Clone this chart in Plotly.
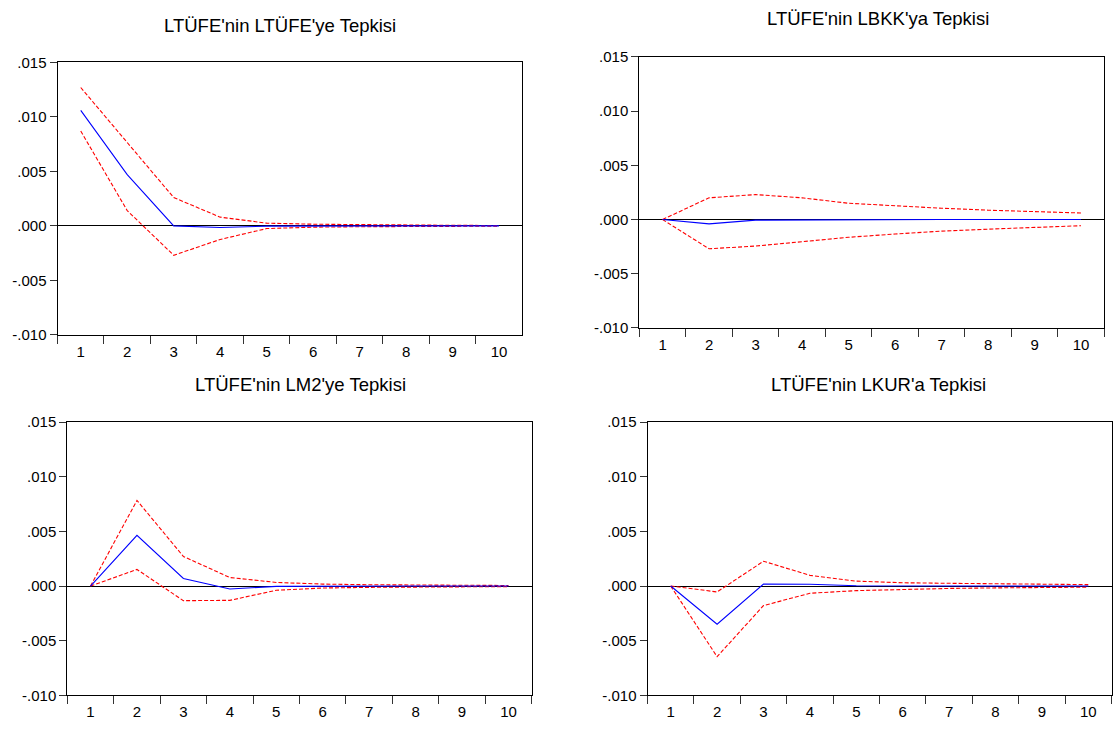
import plotly.graph_objects as go

W, H = 1113, 735

periods = ["1", "2", "3", "4", "5", "6", "7", "8", "9", "10"]

titles = [
    "LTÜFE'nin LTÜFE'ye Tepkisi",
    "LTÜFE'nin LBKK'ya Tepkisi",
    "LTÜFE'nin LM2'ye Tepkisi",
    "LTÜFE'nin LKUR'a Tepkisi",
]

# LTÜFE -> LTÜFE
resp_tufe = [0.0106, 0.0047, 0.0000, -0.00015, -0.00003, 0.0000, 0.0000, 0.0000, 0.0000, 0.0000]
up_tufe = [0.0127, 0.0077, 0.0026, 0.0008, 0.00025, 0.00015, 0.0001, 0.00007, 0.00005, 0.00003]
lo_tufe = [0.0087, 0.0014, -0.0027, -0.00125, -0.00025, -0.00012, -0.00008, -0.00005, -0.00004, -0.00003]

# LTÜFE -> LBKK
resp_bkk = [0.0, -0.0004, -0.00006, -0.00003, -0.00002, -0.00001, 0.0, 0.0, 0.0, 0.0]
up_bkk = [0.0, 0.0020, 0.0023, 0.0020, 0.0015, 0.00125, 0.00104, 0.00086, 0.00072, 0.0006]
lo_bkk = [0.0, -0.0027, -0.00245, -0.00203, -0.00164, -0.00134, -0.00107, -0.00089, -0.00072, -0.00057]

# LTÜFE -> LM2
resp_m2 = [0.0, 0.00465, 0.00069, -0.00027, -0.00003, 0.0, 0.0, 0.0, 0.0, 0.0]
up_m2 = [0.0, 0.00784, 0.00271, 0.00078, 0.00033, 0.00018, 0.00012, 0.00008, 0.00006, 0.00005]
lo_m2 = [0.0, 0.00152, -0.00134, -0.00131, -0.00039, -0.00018, -0.00012, -0.00008, -0.00006, -0.00005]

# LTÜFE -> LKUR
resp_kur = [0.0, -0.00349, 0.00018, 0.00017, 0.00003, 0.0, 0.0, 0.0, 0.0, 0.0]
up_kur = [0.0, -0.00054, 0.00227, 0.00098, 0.00045, 0.0003, 0.00025, 0.0002, 0.00017, 0.00013]
lo_kur = [0.0, -0.00647, -0.00179, -0.00066, -0.00042, -0.0003, -0.00022, -0.00017, -0.00013, -0.0001]

y_tickvals = [-0.010, -0.005, 0.000, 0.005, 0.010, 0.015]
y_ticktext = ["-.010", "-.005", ".000", ".005", ".010", ".015"]

panels = [
    (resp_tufe, up_tufe, lo_tufe),
    (resp_bkk, up_bkk, lo_bkk),
    (resp_m2, up_m2, lo_m2),
    (resp_kur, up_kur, lo_kur),
]

# pixel boxes: (left, right, top, bottom)
boxes = [
    (57.5, 522.3, 54.7, 333.5),
    (639.3, 1104.3, 49.0, 326.5),
    (67.3, 531.7, 423.0, 702.5),
    (647.5, 1111.5, 423.0, 702.5),
]
title_pos = [(280, 17), (878, 10), (300, 384), (878.5, 384)]

FONT = "Liberation Sans, Arial, sans-serif"

fig = go.Figure()
layout = dict(
    width=W, height=H,
    margin=dict(l=0, r=0, t=0, b=0),
    paper_bgcolor="white", plot_bgcolor="white",
    showlegend=False,
    font=dict(family=FONT, size=15, color="black"),
    annotations=[],
)

for i, (resp, up, lo) in enumerate(panels):
    n = i + 1
    xa = "x" if n == 1 else f"x{n}"
    ya = "y" if n == 1 else f"y{n}"
    for band in (up, lo):
        fig.add_trace(go.Scatter(
            x=periods, y=band, mode="lines", xaxis=xa, yaxis=ya,
            line=dict(color="#ff0000", width=1.1, dash="4px,2px"),
            hoverinfo="skip",
        ))
    fig.add_trace(go.Scatter(
        x=periods, y=resp, mode="lines", xaxis=xa, yaxis=ya,
        line=dict(color="#0000ff", width=1.1),
    ))
    l, r, t, b = boxes[i]
    xkey = "xaxis" if n == 1 else f"xaxis{n}"
    ykey = "yaxis" if n == 1 else f"yaxis{n}"
    layout[xkey] = dict(
        domain=[l / W, r / W], anchor=ya, type="category",
        range=[-0.5, 9.5], tickson="boundaries",
        ticks="outside", ticklen=8, tickwidth=1, tickcolor="#333333",
        ticklabelstandoff=3,
        showline=True, linecolor="black", linewidth=1, mirror=True,
        showgrid=False, zeroline=False,
        tickfont=dict(family=FONT, size=15, color="black"),
        fixedrange=True,
    )
    layout[ykey] = dict(
        domain=[1 - b / H, 1 - t / H], anchor=xa,
        range=[-0.010, 0.015],
        tickmode="array", tickvals=y_tickvals, ticktext=y_ticktext,
        ticks="outside", ticklen=7, tickwidth=1, tickcolor="#333333",
        showline=True, linecolor="black", linewidth=1, mirror=True,
        showgrid=False,
        zeroline=True, zerolinecolor="black", zerolinewidth=1,
        tickfont=dict(family=FONT, size=15, color="black"),
        fixedrange=True,
    )
    tx, ty = title_pos[i]
    layout["annotations"].append(dict(
        text=titles[i], xref="paper", yref="paper",
        x=tx / W, y=1 - ty / H, xanchor="center", yanchor="middle",
        showarrow=False, font=dict(family=FONT, size=18.5, color="black"),
    ))

fig.update_layout(**layout)
fig.write_html("out.html")
